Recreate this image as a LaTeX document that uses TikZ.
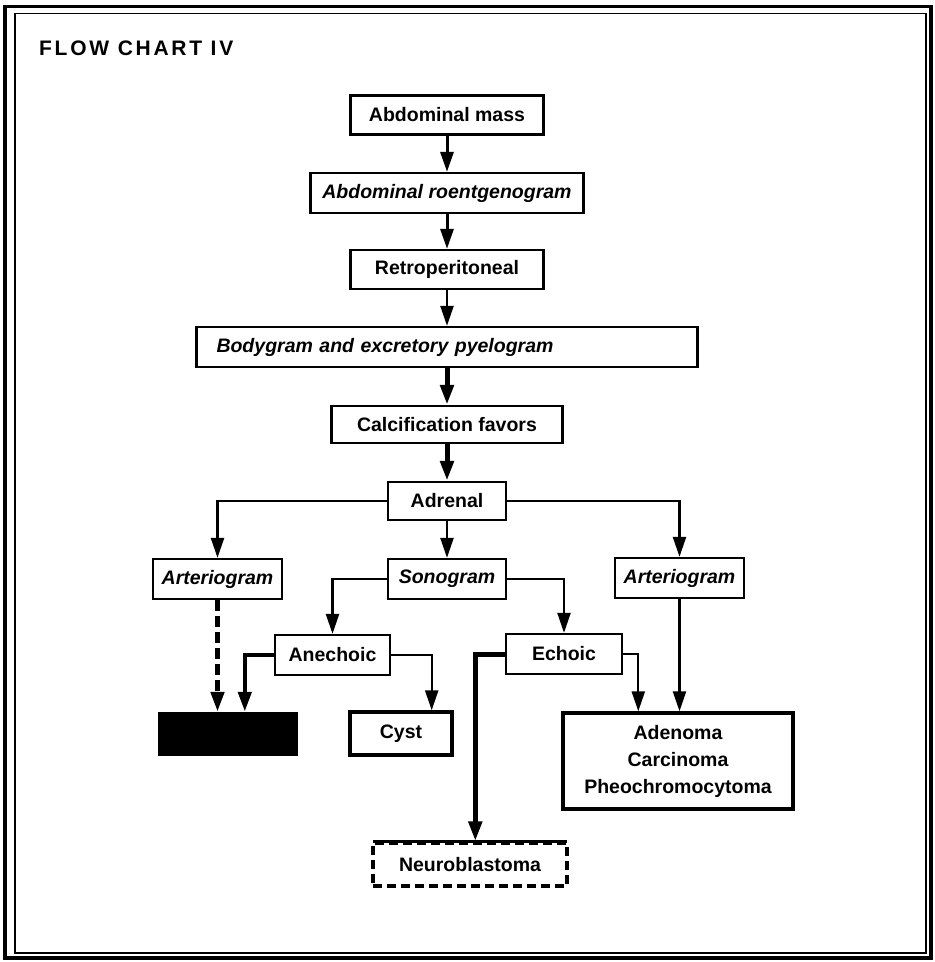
\documentclass[tikz,border=0pt]{standalone}
\usepackage{fontspec}
\setmainfont{Liberation Sans}
\usetikzlibrary{arrows.meta}

\begin{document}
\begin{tikzpicture}[x=1pt, y=-1pt,
    txt/.style={font=\fontsize{19.5pt}{27pt}\selectfont\bfseries},
    box/.style={txt, draw, line width=2.3pt, inner sep=0pt, minimum height=39pt},
    ibox/.style={box, font=\fontsize{19.5pt}{27pt}\selectfont\bfseries\itshape},
    heavybox/.style={box, line width=3.4pt},
    link/.style={line width=2.3pt, -{Triangle[length=20pt,width=13pt]}},
    boldlink/.style={link, line width=5pt},
    dashlink/.style={link, line width=4.6pt, dash pattern=on 11pt off 5pt}
  ]
    \useasboundingbox (0,0) rectangle (935,962);
    % double frame
    \draw[line width=3.4pt] (5,6.5) rectangle (931,958);
    \draw[line width=1.8pt] (15,13.5) rectangle (926,953);
    \node[anchor=west, inner sep=0pt, font=\fontsize{21pt}{24pt}\selectfont\bfseries] (title) at (39,48) {\addfontfeatures{LetterSpace=13}FLOW CHART IV};

    % main column
    \node[box, minimum width=193pt] (mass) at (447,115) {Abdominal mass};
    \node[ibox, minimum width=273pt, minimum height=40pt] (roent) at (447,193) {Abdominal roentgenogram};
    \node[box, minimum width=193pt] (retro) at (447,269.5) {Retroperitoneal};
    \node[ibox, text width=461pt, inner xsep=20pt, align=left, minimum height=40pt] (body) at (447,347) {Bodygram and excretory pyelogram};
    \node[box, minimum width=231pt, minimum height=37pt] (calc) at (447,424.5) {Calcification favors};
    \node[box, minimum width=118pt, minimum height=38pt] (adrenal) at (447,501) {Adrenal};

    % second row
    \node[ibox, minimum width=129pt, minimum height=40pt] (artL) at (217.5,579) {Arteriogram};
    \node[ibox, minimum width=118pt, minimum height=40pt] (sono) at (447,579) {Sonogram};
    \node[ibox, minimum width=129pt, minimum height=40pt] (artR) at (679.5,578) {Arteriogram};

    % third row
    \node[box, minimum width=115pt, minimum height=40pt] (anech) at (332.5,655) {Anechoic};
    \node[box, minimum width=116pt, minimum height=40pt] (echo) at (564,654) {Echoic};

    % results
    \node[draw, fill=black, minimum width=139pt, minimum height=43pt, inner sep=0pt] (black) at (227.5,733.5) {};
    \node[heavybox, minimum width=102pt, minimum height=43pt] (cyst) at (401,733.5) {Cyst};
    \node[heavybox, minimum width=230pt, minimum height=96pt, align=center] (aden) at (678,761) {Adenoma\\Carcinoma\\Pheochromocytoma};
    \node[heavybox, dash pattern=on 9pt off 5pt, minimum width=194pt, minimum height=43pt] (neuro) at (470,864.5) {Neuroblastoma};
    \draw[line width=3.4pt, shorten <=1.7pt, shorten >=1.7pt] (neuro.north west) -- (neuro.north east);

    % connectors
    \draw[link, line width=3pt] (mass) -- (roent);
    \draw[link, line width=3pt] (roent) -- (retro);
    \draw[link] (retro) -- (body);
    \draw[boldlink] (body) -- (calc);
    \draw[boldlink] (calc) -- (adrenal);
    \draw[link] (adrenal) -- (sono);
    \draw[link] (adrenal.west) -| (artL.north);
    \draw[link] (adrenal.east) -| (artR.north);
    \draw[link] (sono.west) -| (anech.north);
    \draw[link] (sono.east) -| (echo.north);
    \draw[dashlink] (artL) -- (artL |- black.north);
    \draw[link, line width=4.4pt] (anech.west) -| ([xshift=87pt]black.north west);
    \draw[link] (anech.east) -| ([xshift=-22pt]cyst.north east);
    \draw[link] (echo.east) -| ([xshift=77pt]aden.north west);
    \draw[link] (artR) -- (artR |- aden.north);
    \draw[boldlink] (echo.west) -| ([xshift=104pt]neuro.north west);
\end{tikzpicture}
\end{document}
